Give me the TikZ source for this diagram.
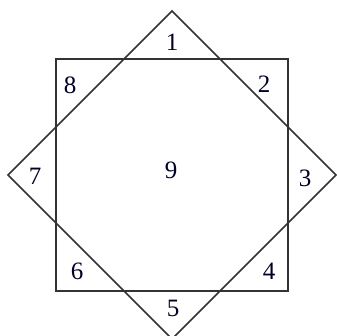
\documentclass[tikz,border=0pt]{standalone}
\usepackage{fontspec}
\setmainfont{Liberation Serif}
\begin{document}
\begin{tikzpicture}[x=1pt,y=-1pt,
  edge/.style={draw=black!80,line width=1.5pt,line join=miter},
  lbl/.style={font=\fontsize{25}{25}\selectfont,text=black!85!blue,inner sep=0pt}]
\useasboundingbox (0,0) rectangle (336,336);
\coordinate (c) at (172,175);
\draw[edge] (56,59) rectangle (288,291);
\draw[edge] (172,11) -- (336,175) -- (172,339) -- (8,175) -- cycle;
\node[lbl] (n1) at (172,42) {1};
\node[lbl] (n2) at (264,84) {2};
\node[lbl] (n3) at (305,178) {3};
\node[lbl] (n4) at (269,271) {4};
\node[lbl] (n5) at (173,308) {5};
\node[lbl] (n6) at (77,271) {6};
\node[lbl] (n7) at (35,176) {7};
\node[lbl] (n8) at (70,85) {8};
\node[lbl] (n9) at (171,170) {9};
\end{tikzpicture}
\end{document}
